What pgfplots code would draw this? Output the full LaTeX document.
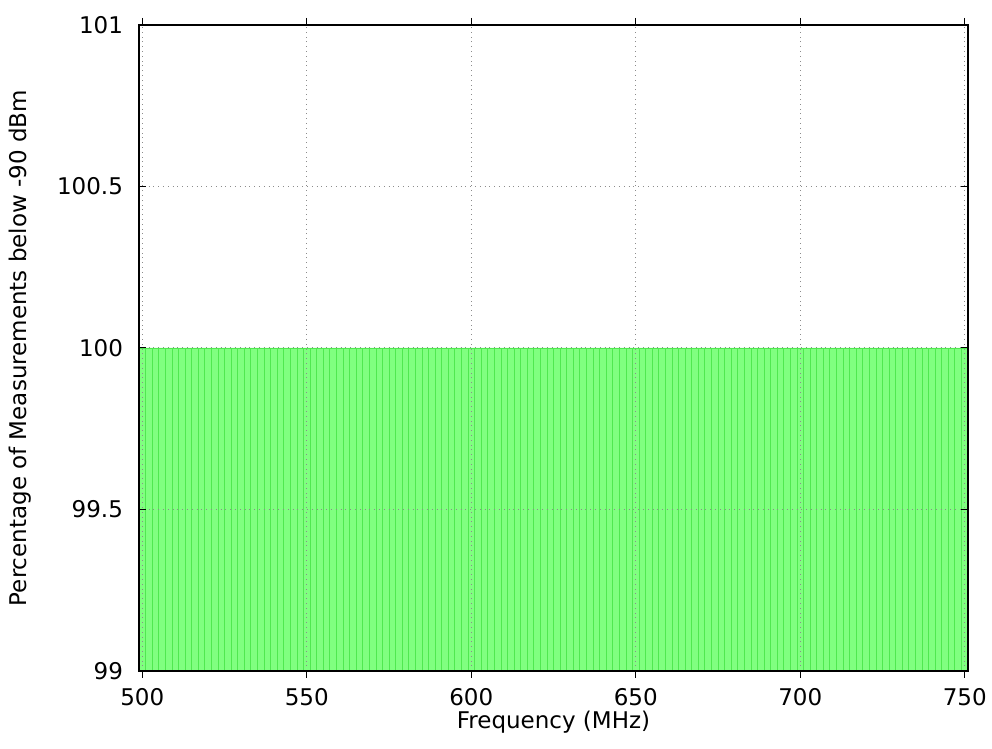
\documentclass[border=0pt]{standalone}
\usepackage{pgfplots}
\pgfplotsset{compat=1.18}
\usepackage{fontspec}
\setmainfont{DejaVu Sans}
\definecolor{barfill}{RGB}{128,255,128}
\definecolor{barline}{RGB}{80,232,80}
\begin{document}
\begin{tikzpicture}
\begin{axis}[
  at={(0,0)}, anchor=south west,
  scale only axis,
  width=414.5pt, height=323pt,
  xmin=499, xmax=751,
  ymin=99, ymax=101,
  xtick={500,550,600,650,700,750},
  ytick={99,99.5,100,100.5,101},
  yticklabels={99,99.5,100,100.5,101},
  /pgf/number format/assume math mode=true,
  tick label style={font=\fontsize{11.5}{13}\selectfont},
  label style={font=\fontsize{11.5}{13}\selectfont},
  xlabel={Frequency (MHz)},
  ylabel={Percentage of Measurements below -90 dBm},
  xlabel style={at={([yshift=-25.5pt]axis description cs:0.5,0)}, anchor=center},
  ylabel style={at={([xshift=-59.5pt]axis description cs:0,0.5)}, anchor=center},
  yticklabel style={xshift=-4.5pt},
  xticklabel style={yshift=-1.5pt},
  tick align=inside,
  major tick length=3.5pt,
  tick style={black, line width=0.5pt},
  axis line style={black, line width=0.6pt},
  grid=major,
  major grid style={gray!90, dotted, line width=0.5pt},
  axis on top,
  ybar, bar width=2,
]
\addplot[fill=barfill, draw=barline, line width=0.35pt] coordinates {
(500,100) (502,100) (504,100) (506,100) (508,100) (510,100) (512,100) (514,100) (516,100) (518,100)
(520,100) (522,100) (524,100) (526,100) (528,100) (530,100) (532,100) (534,100) (536,100) (538,100)
(540,100) (542,100) (544,100) (546,100) (548,100) (550,100) (552,100) (554,100) (556,100) (558,100)
(560,100) (562,100) (564,100) (566,100) (568,100) (570,100) (572,100) (574,100) (576,100) (578,100)
(580,100) (582,100) (584,100) (586,100) (588,100) (590,100) (592,100) (594,100) (596,100) (598,100)
(600,100) (602,100) (604,100) (606,100) (608,100) (610,100) (612,100) (614,100) (616,100) (618,100)
(620,100) (622,100) (624,100) (626,100) (628,100) (630,100) (632,100) (634,100) (636,100) (638,100)
(640,100) (642,100) (644,100) (646,100) (648,100) (650,100) (652,100) (654,100) (656,100) (658,100)
(660,100) (662,100) (664,100) (666,100) (668,100) (670,100) (672,100) (674,100) (676,100) (678,100)
(680,100) (682,100) (684,100) (686,100) (688,100) (690,100) (692,100) (694,100) (696,100) (698,100)
(700,100) (702,100) (704,100) (706,100) (708,100) (710,100) (712,100) (714,100) (716,100) (718,100)
(720,100) (722,100) (724,100) (726,100) (728,100) (730,100) (732,100) (734,100) (736,100) (738,100)
(740,100) (742,100) (744,100) (746,100) (748,100) (750,100)
};
\end{axis}
\pgfresetboundingbox
\path[use as bounding box] (-69.5pt,-39pt) rectangle (426.5pt,335.5pt);
\end{tikzpicture}
\end{document}
